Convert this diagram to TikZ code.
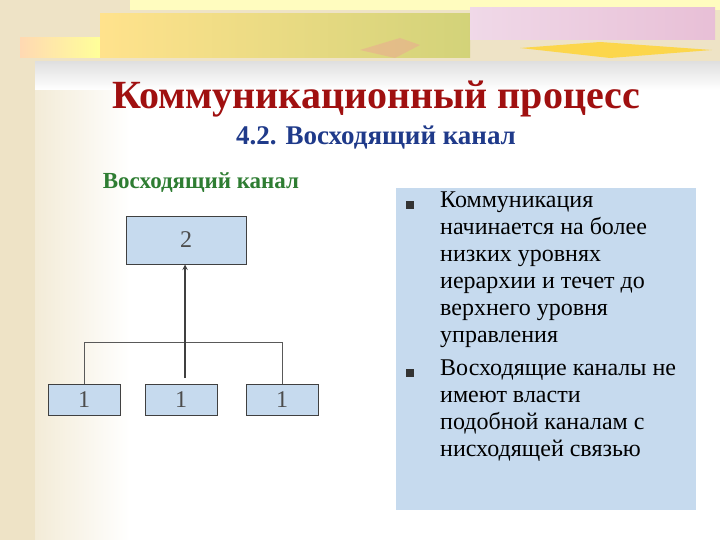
\documentclass[tikz,border=0pt]{standalone}
\usepackage{fontspec}
\setmainfont{Liberation Serif}
\begin{document}
\begin{tikzpicture}[x=1pt,y=-1pt,
  box/.style={draw=black!75,fill=boxblue,line width=0.7pt,inner sep=0pt,font=\rmfamily\fontsize{24}{24}\selectfont,text=black!70},
  wire/.style={draw=black!65,line width=0.7pt},
  btext/.style={anchor=north west,align=left,inner sep=0pt,font=\rmfamily\fontsize{24}{27}\selectfont}]
\definecolor{boxblue}{HTML}{C6DAEE}
\definecolor{beige}{HTML}{EEE3C6}
\useasboundingbox (0,0) rectangle (720,540);
\fill[beige] (0,0) rectangle (720,540);
\fill[white] (35,62) rectangle (720,540);
\shade[left color=beige!70, right color=white] (35,62) rectangle (130,540);
\shade[top color=black!12, bottom color=white] (35,62) rectangle (720,90);
% top decorative strip
\fill[yellow!25] (130,0) rectangle (720,10);
\shade[left color=orange!30, right color=yellow!40] (20,38) rectangle (100,58);
\shade[left color=yellow!50!orange!45, right color=olive!35] (100,14) rectangle (470,58);
\fill[brown!60!red!50,opacity=0.5] (360,50) -- (400,38) -- (420,45) -- (395,58) -- cycle;
\shade[left color=blue!20!purple!15, right color=blue!15!purple!25] (470,8) rectangle (715,40);
\fill[yellow!60!orange!70] (520,48) -- (600,42) -- (712,50) -- (610,58) -- cycle;
% titles
\node[font=\rmfamily\bfseries\fontsize{40}{40}\selectfont,text={rgb,255:red,160;green,16;blue,16}] (title) at (376,99) {Коммуникационный процесс};
\node[font=\rmfamily\bfseries\fontsize{27}{27}\selectfont,text={rgb,255:red,31;green,58;blue,138}] (sub) at (376,138) {4.2. Восходящий канал};
\node[font=\rmfamily\bfseries\fontsize{23}{23}\selectfont,text={rgb,255:red,46;green,125;blue,50}] (head) at (201,183) {Восходящий канал};
% diagram
\node[box,minimum width=120pt,minimum height=48pt] (b2) at (186,240) {2};
\node[box,minimum width=72pt,minimum height=31pt] (a1) at (84,399.5) {1};
\node[box,minimum width=72pt,minimum height=31pt] (a2) at (181,399.5) {1};
\node[box,minimum width=72pt,minimum height=31pt] (a3) at (282,399.5) {1};
\coordinate (h1) at (84,342);
\coordinate (h3) at (282,342);
\coordinate (src) at (185,378);
\draw[wire] (a1.north) -- (h1) -- (h3) -- (a3.north);
\draw[draw=black!75,line width=1.4pt,-stealth] (src) -- (185,264.5);
% right panel
\node[draw=none,fill=boxblue,minimum width=300pt,minimum height=322pt,inner sep=0pt] (panel) at (546,349) {};
\fill[black!80] (406,201) rectangle (414,209);
\fill[black!80] (406,369) rectangle (414,377);
\node[btext] (t1) at (440,192) {Коммуникация\\начинается на более\\низких уровнях\\иерархии и течет до\\верхнего уровня\\управления};
\node[btext] (t2) at (440,360) {Восходящие каналы не\\имеют власти\\подобной каналам с\\нисходящей связью};
\end{tikzpicture}
\end{document}
